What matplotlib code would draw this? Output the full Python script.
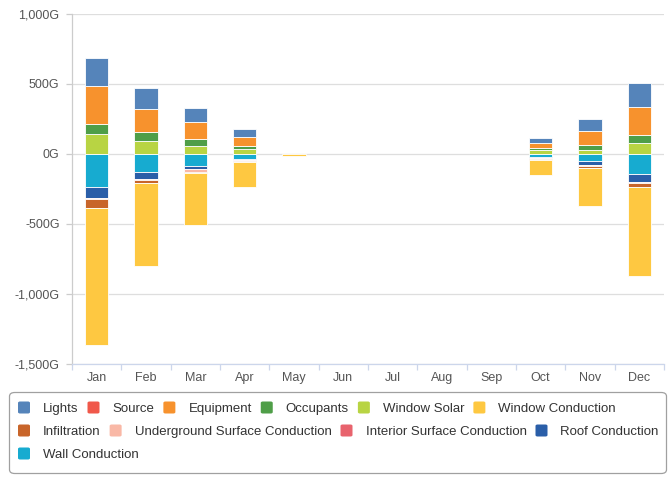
import matplotlib
matplotlib.use("Agg")
import matplotlib.pyplot as plt
import numpy as np
from matplotlib.patches import FancyBboxPatch
from matplotlib.ticker import FuncFormatter

plt.rcParams['font.family'] = ['Liberation Sans', 'DejaVu Sans']

months = ["Jan", "Feb", "Mar", "Apr", "May", "Jun",
          "Jul", "Aug", "Sep", "Oct", "Nov", "Dec"]

series_names = ["Lights", "Source", "Equipment", "Occupants", "Window Solar",
                "Window Conduction", "Infiltration",
                "Underground Surface Conduction", "Interior Surface Conduction",
                "Roof Conduction", "Wall Conduction"]

series_colors = ["#5584ba", "#f0584a", "#f7922d", "#4f9e48", "#b8d443",
                 "#fec841", "#c8652a", "#f9b8a6", "#e8636d", "#2a5ea8",
                 "#17abd0"]

# monthly heat gains (+) and losses (-), in G
lights = [200, 147, 103, 53, 0, 0, 0, 0, 0, 40, 80, 165]
source = [0, 0, 0, 0, 0, 0, 0, 0, 0, 0, 0, 0]
equipment = [271, 168, 120, 69, 0, 0, 0, 0, 0, 36, 100, 200]
occupants = [72, 65, 55, 17, 0, 0, 0, 0, 0, 14, 38, 60]
window_solar = [141, 89, 53, 36, 0, 0, 0, 0, 0, 25, 28, 78]
window_conduction = [-980, -595, -370, -180, -15, 0, 0, 0, 0, -108, -270, -635]
infiltration = [-68, -20, -4, -12, 0, 0, 0, 0, 0, -8, -15, -30]
underground = [-10, -8, -25, -5, 0, 0, 0, 0, 0, -6, -10, -5]
interior = [0, 0, 0, 0, 0, 0, 0, 0, 0, 0, 0, 0]
roof = [-78, -52, -22, -8, 0, 0, 0, 0, 0, -8, -25, -60]
wall = [-235, -130, -85, -35, 0, 0, 0, 0, 0, -20, -55, -145]

series_values = [lights, source, equipment, occupants, window_solar,
                 window_conduction, infiltration, underground, interior,
                 roof, wall]

W, H = 672, 478
fig = plt.figure(figsize=(W / 100, H / 100), dpi=100)
ax = fig.add_axes([72 / W, 1 - 363.5 / H, 592 / W, (363.5 - 14) / H])

x = np.arange(len(months))
pos_base = np.zeros(len(months))
neg_base = np.zeros(len(months))

# last series sits next to zero, first series is outermost
for name, vals, color in reversed(list(zip(series_names, series_values, series_colors))):
    v = np.array(vals, dtype=float)
    for mask, base in ((v > 0, pos_base), (v < 0, neg_base)):
        if mask.any():
            ax.bar(x[mask], v[mask], bottom=base[mask], width=0.47,
                   color=color, edgecolor="white", linewidth=0.6, zorder=3)
        base += np.where(mask, v, 0)

ax.set_xlim(-0.5, 11.5)
ax.set_ylim(-1500, 1000)
ax.set_yticks([-1500, -1000, -500, 0, 500, 1000])
ax.yaxis.set_major_formatter(FuncFormatter(lambda v, p: f"{v:,.0f}G"))
ax.grid(axis="y", color="#dedede", linewidth=0.9, zorder=0)

ax.set_xticks(x)
ax.set_xticklabels(months)
ax.set_xticks(np.arange(-0.5, 12, 1), minor=True)
ax.tick_params(axis="x", which="major", length=0, pad=6, labelsize=9,
               labelcolor="#555555")
ax.tick_params(axis="x", which="minor", length=4, color="#ccd6eb", width=0.9)
ax.tick_params(axis="y", length=4, color="#cccccc", width=0.9, pad=5,
               labelsize=9, labelcolor="#555555")

for side in ["top", "right"]:
    ax.spines[side].set_visible(False)
ax.spines["left"].set_color("#cccccc")
ax.spines["bottom"].set_color("#ccd6eb")
ax.spines["left"].set_linewidth(0.9)
ax.spines["bottom"].set_linewidth(0.9)

# legend box, items flow left to right and wrap into rows
def fx(px):
    return px / W

def fy(py):
    return 1 - py / H

box = FancyBboxPatch((fx(9.5), fy(473.5)), fx(657), (473.5 - 392.5) / H,
                     boxstyle="round,pad=0,rounding_size=0.008",
                     transform=fig.transFigure, facecolor="white",
                     edgecolor="#a0a0a0", linewidth=0.9)
fig.patches.append(box)

renderer = fig.canvas.get_renderer()
legend_rows = [[0, 1, 2, 3, 4, 5], [6, 7, 8, 9], [10]]
row_y = [407.5, 430.5, 453.5]
item_gap = 9

for row, ry in zip(legend_rows, row_y):
    cursor = 18
    for idx in row:
        sq = FancyBboxPatch((fx(cursor), fy(ry + 6)), fx(12), 12 / H,
                            boxstyle="round,pad=0,rounding_size=0.003",
                            transform=fig.transFigure,
                            facecolor=series_colors[idx], edgecolor="none")
        fig.patches.append(sq)
        t = fig.text(fx(cursor + 25), fy(ry), series_names[idx], fontsize=9.5,
                     color="#333333", va="center_baseline", ha="left")
        cursor += 25 + t.get_window_extent(renderer).width + item_gap

fig.savefig("out.png", dpi=100)
